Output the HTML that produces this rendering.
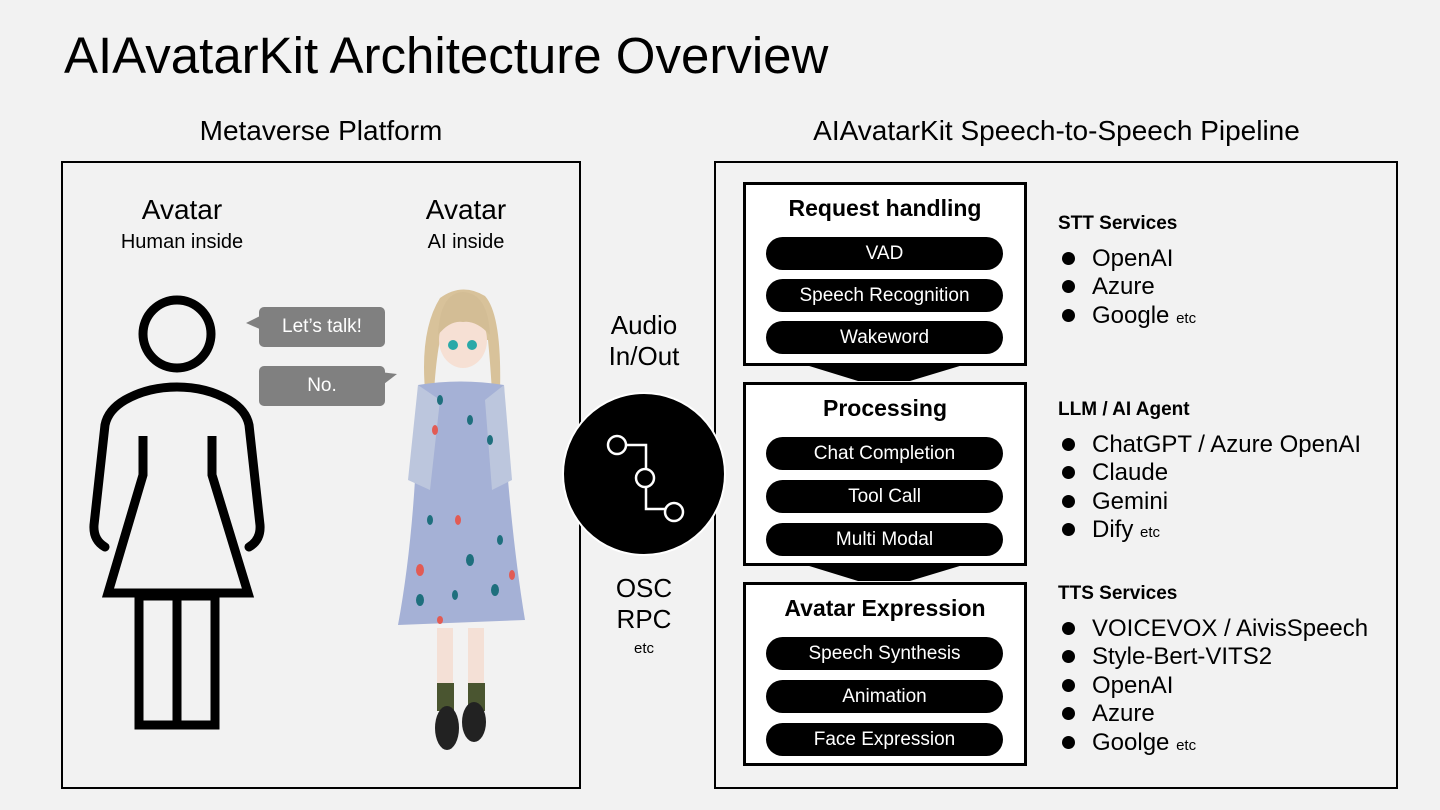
<!DOCTYPE html>
<html><head><meta charset="utf-8"><style>
body{margin:0;width:1440px;height:810px;background:#f2f2f2;position:relative;overflow:hidden;font-family:"Liberation Sans",sans-serif;color:#000}
.a{position:absolute}
.t{position:absolute;text-align:center;white-space:nowrap}
.box{position:absolute;border:2px solid #000;box-sizing:border-box}
.sb{position:absolute;left:743px;width:284px;height:184px;border:3px solid #000;background:#fff;box-sizing:border-box}
.sb h3{margin:0;position:absolute;top:10px;width:100%;text-align:center;font-size:23px;font-weight:bold}
.pill{position:absolute;left:20px;width:237px;height:33px;border-radius:17px;background:#000;color:#fff;text-align:center;font-size:19px;line-height:33px}
.list{position:absolute;left:1058px;font-size:24px;line-height:28.5px}
.list b{font-size:19px;display:block;margin-bottom:6px}
.list small{font-size:15px}
.bullet{display:inline-block;width:13px;height:13px;border-radius:50%;background:#000;margin-right:17px;margin-left:4px;vertical-align:1px}
.bub{position:absolute;background:#808080;color:#fff;border-radius:5px;font-size:19px;text-align:center;line-height:40px;width:126px;height:40px}
</style></head><body>
<div class="a" style="left:64px;top:26px;font-size:51px;">AIAvatarKit Architecture Overview</div>
<div class="t" style="left:62px;width:518px;top:115px;font-size:28px">Metaverse Platform</div>
<div class="t" style="left:715px;width:683px;top:115px;font-size:28px">AIAvatarKit Speech-to-Speech Pipeline</div>
<div class="box" style="left:61px;top:161px;width:520px;height:628px"></div>
<div class="box" style="left:714px;top:161px;width:684px;height:628px"></div>

<div class="t" style="left:82px;width:200px;top:194px;font-size:28px">Avatar</div>
<div class="t" style="left:82px;width:200px;top:231px;font-size:20px">Human inside</div>
<div class="t" style="left:366px;width:200px;top:194px;font-size:28px">Avatar</div>
<div class="t" style="left:366px;width:200px;top:231px;font-size:20px">AI inside</div>

<svg class="a" style="left:0;top:0" width="1440" height="810">
 <g fill="none" stroke="#000" stroke-width="9" stroke-linecap="round">
  <circle cx="177" cy="334" r="34"/>
  <path d="M105 547 Q93 540 94 525 L105 425 Q108 410 125 400 Q148 387 177 387 Q206 387 229 400 Q246 410 249 425 L260 525 Q261 540 249 547"/>
  <path d="M143 436 L143 475 L108 593 L248 593 L212 475 L212 436" stroke-linecap="butt"/>
  <rect x="139" y="596" width="76" height="129"/>
  <line x1="177" y1="596" x2="177" y2="725"/>
 </g>
 <polygon points="246,323 262,315 262,330" fill="#808080"/>
 <polygon points="397,374 380,372 380,387" fill="#808080"/>
 <g>
  <path d="M425 390 Q420 330 440 298 Q462 282 485 296 Q502 315 500 392 L492 392 Q490 360 488 340 L440 340 Q436 360 434 392 Z" fill="#d8c29a"/>
  <ellipse cx="463" cy="340" rx="24" ry="28" fill="#f6e0d4"/>
  <path d="M438 335 Q440 293 463 292 Q488 293 490 335 Q476 320 463 322 Q450 320 438 335Z" fill="#d3bd95"/>
  <circle cx="453" cy="345" r="5" fill="#2aa9a8"/><circle cx="472" cy="345" r="5" fill="#2aa9a8"/>
  <path d="M418 385 Q460 378 504 385 L508 480 Q515 560 525 620 L398 625 Q410 560 415 480 Z" fill="#a5b1d6"/>
  <path d="M418 385 L408 480 L430 490 L440 400Z M504 385 L512 480 L492 490 L485 400Z" fill="#bcc6dd"/>
  <g fill="#1e6f7d"><ellipse cx="440" cy="400" rx="3" ry="5"/><ellipse cx="470" cy="420" rx="3" ry="5"/><ellipse cx="490" cy="440" rx="3" ry="5"/><ellipse cx="430" cy="520" rx="3" ry="5"/><ellipse cx="470" cy="560" rx="4" ry="6"/><ellipse cx="500" cy="540" rx="3" ry="5"/><ellipse cx="420" cy="600" rx="4" ry="6"/><ellipse cx="455" cy="595" rx="3" ry="5"/><ellipse cx="495" cy="590" rx="4" ry="6"/></g>
  <g fill="#e25b54"><ellipse cx="435" cy="430" rx="3" ry="5"/><ellipse cx="458" cy="520" rx="3" ry="5"/><ellipse cx="420" cy="570" rx="4" ry="6"/><ellipse cx="512" cy="575" rx="3" ry="5"/><ellipse cx="440" cy="620" rx="3" ry="4"/></g>
  <rect x="437" y="628" width="16" height="60" fill="#f4e0d6"/><rect x="468" y="628" width="16" height="60" fill="#f4e0d6"/>
  <rect x="437" y="683" width="17" height="28" fill="#4a5530"/><rect x="468" y="683" width="17" height="28" fill="#4a5530"/>
  <ellipse cx="447" cy="728" rx="12" ry="22" fill="#222"/><ellipse cx="474" cy="722" rx="12" ry="20" fill="#222"/>
 </g>
 <polygon points="806,365 963,365 910,381 858,381" fill="#000"/>
 <polygon points="806,565 963,565 910,581 858,581" fill="#000"/>
 <circle cx="644" cy="474" r="81" fill="#000" stroke="#fff" stroke-width="2"/>
 <g fill="none" stroke="#fff" stroke-width="2.5">
  <path d="M626 445 L646 445 L646 478 M646 478 L646 509 L666 509"/>
  <circle cx="617" cy="445" r="9" fill="#000"/><circle cx="645" cy="478" r="9" fill="#000"/><circle cx="674" cy="512" r="9" fill="#000"/>
 </g>
</svg>
<div class="bub" style="left:259px;top:307px">Let’s talk!</div>
<div class="bub" style="left:259px;top:366px">No.</div>

<div class="t" style="left:584px;width:120px;top:310px;font-size:26px;line-height:31px">Audio<br>In/Out</div>
<div class="t" style="left:584px;width:120px;top:573px;font-size:26px;line-height:31px">OSC<br>RPC</div>
<div class="t" style="left:584px;width:120px;top:640px;font-size:15px">etc</div>

<div class="sb" style="top:182px"><h3>Request handling</h3>
 <div class="pill" style="top:52px">VAD</div><div class="pill" style="top:94px">Speech Recognition</div><div class="pill" style="top:136px">Wakeword</div></div>
<div class="sb" style="top:382px"><h3>Processing</h3>
 <div class="pill" style="top:52px">Chat Completion</div><div class="pill" style="top:95px">Tool Call</div><div class="pill" style="top:138px">Multi Modal</div></div>
<div class="sb" style="top:582px"><h3>Avatar Expression</h3>
 <div class="pill" style="top:52px">Speech Synthesis</div><div class="pill" style="top:95px">Animation</div><div class="pill" style="top:138px">Face Expression</div></div>

<div class="list" style="top:210px"><b>STT Services</b>
<div><span class="bullet"></span>OpenAI</div><div><span class="bullet"></span>Azure</div><div><span class="bullet"></span>Google <small>etc</small></div></div>
<div class="list" style="top:396px"><b>LLM / AI Agent</b>
<div><span class="bullet"></span>ChatGPT / Azure OpenAI</div><div><span class="bullet"></span>Claude</div><div><span class="bullet"></span>Gemini</div><div><span class="bullet"></span>Dify <small>etc</small></div></div>
<div class="list" style="top:580px"><b>TTS Services</b>
<div><span class="bullet"></span>VOICEVOX / AivisSpeech</div><div><span class="bullet"></span>Style-Bert-VITS2</div><div><span class="bullet"></span>OpenAI</div><div><span class="bullet"></span>Azure</div><div><span class="bullet"></span>Goolge <small>etc</small></div></div>
</body></html>
